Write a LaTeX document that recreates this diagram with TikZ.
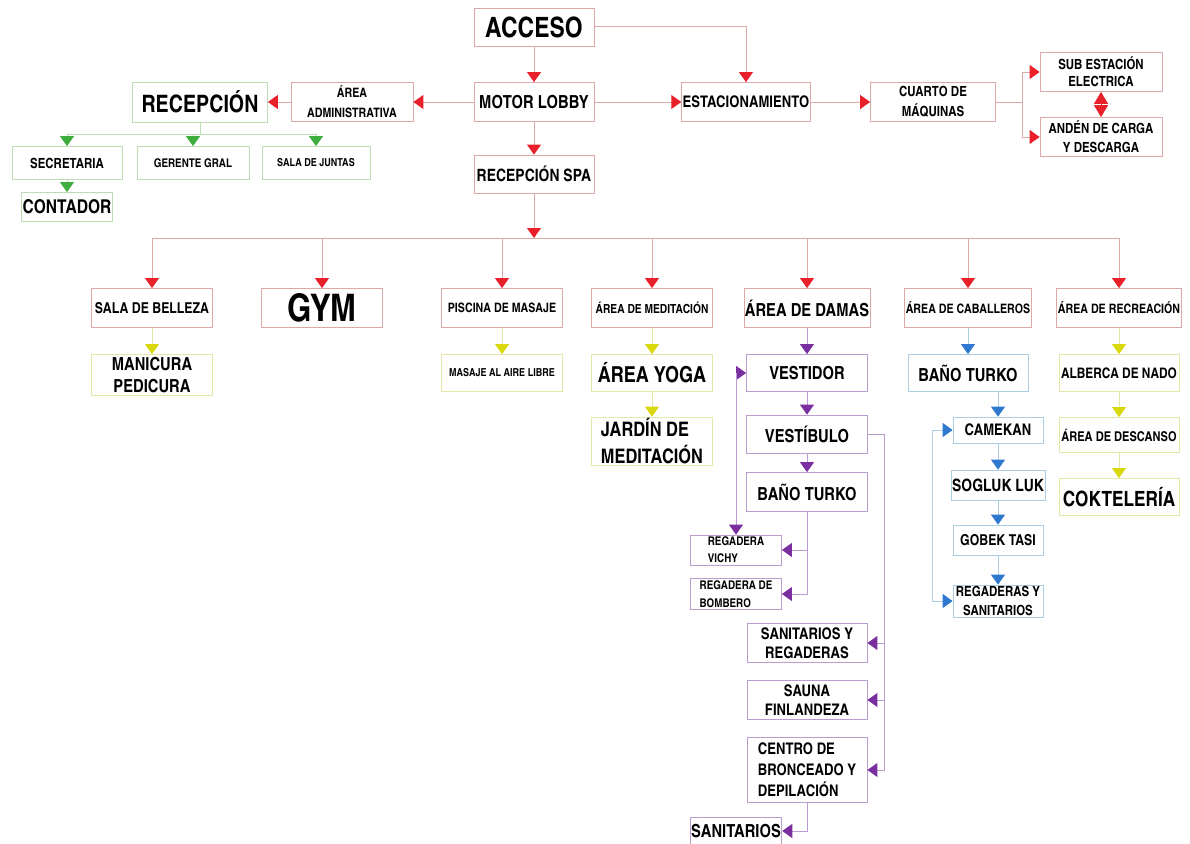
\documentclass[tikz,border=0pt]{standalone}
\usepackage{fontspec}
\setmainfont{texgyreheroscn}[Extension=.otf, UprightFont=*-bold, BoldFont=*-bold]
\usetikzlibrary{arrows.meta, positioning}

\definecolor{rojo}{HTML}{E8202A}
\definecolor{rojoL}{HTML}{DDA8A8}
\definecolor{verde}{HTML}{3DAE3D}
\definecolor{verdeL}{HTML}{BCDDB4}
\definecolor{amarillo}{HTML}{D8D80C}
\definecolor{amarilloL}{HTML}{E6E6A6}
\definecolor{morado}{HTML}{7A2FA0}
\definecolor{moradoL}{HTML}{BA9CCE}
\definecolor{azul}{HTML}{2F78D0}
\definecolor{azulL}{HTML}{AACDE2}

\tikzset{
  caja/.style={draw=#1, line width=0.8pt, inner sep=1pt, align=center, minimum width=121pt, minimum height=39pt},
  tx/.style 2 args={font=\fontsize{#1}{#2}\selectfont},
  flecha/.style 2 args={draw=#1, line width=1pt, -{Triangle[length=10pt, width=14pt, fill=#2, color=#2]}},
  fr/.style={flecha={rojoL}{rojo}},
  fv/.style={flecha={verdeL}{verde}},
  fa/.style={flecha={amarilloL}{amarillo}},
  fm/.style={flecha={moradoL}{morado}},
  fz/.style={flecha={azulL}{azul}},
}

\begin{document}
\begin{tikzpicture}[x=1pt, y=-1pt]
\useasboundingbox (0,0) rectangle (1190,843);

% Acceso y recepcion
\node[caja=rojoL, minimum width=120pt, minimum height=38pt, tx={28}{30}] (acceso) at (534,27) {ACCESO};
\node[caja=rojoL, minimum width=120pt, tx={18}{20}] (lobby) at (534,102) {MOTOR LOBBY};
\node[caja=rojoL, minimum width=120pt, minimum height=38pt, tx={17}{19}] (spa) at (534,174) {RECEPCIÓN SPA};
\node[caja=rojoL, minimum width=122pt, tx={13}{20}] (admin) at (352,102) {ÁREA\\ADMINISTRATIVA};
\node[caja=verdeL, minimum width=135pt, minimum height=40pt, tx={24}{26}] (recep) at (200,102) {RECEPCIÓN};

% Administracion
\node[caja=verdeL, minimum width=110pt, minimum height=33pt, tx={14}{16}] (secre) at (67,163) {SECRETARIA};
\node[caja=verdeL, minimum width=112pt, minimum height=33pt, tx={12}{14}] (geren) at (193,163) {GERENTE GRAL};
\node[caja=verdeL, minimum width=108pt, minimum height=33pt, tx={11}{13}] (juntas) at (316,163) {SALA DE JUNTAS};
\node[caja=verdeL, minimum width=91pt, minimum height=29pt, tx={19}{21}] (contador) at (67,207) {CONTADOR};

% Servicios
\node[caja=rojoL, minimum width=126pt, tx={16}{18}] (estac) at (746,102) {ESTACIONAMIENTO};
\node[caja=rojoL, minimum width=125pt, tx={14}{20}] (cuarto) at (933,102) {CUARTO DE\\MÁQUINAS};
\node[caja=rojoL, minimum width=122pt, tx={14}{17}] (subest) at (1101,72) {SUB ESTACIÓN\\ELECTRICA};
\node[caja=rojoL, minimum width=122pt, tx={14}{19}] (anden) at (1101,137) {ANDÉN DE CARGA\\Y DESCARGA};

% Areas del spa
\node[caja=rojoL, tx={15}{17}] (belleza) at (152,308) {SALA DE BELLEZA};
\node[caja=rojoL, tx={38}{40}] (gym) at (322,308) {GYM};
\node[caja=rojoL, tx={13}{15}] (piscina) at (502,308) {PISCINA DE MASAJE};
\node[caja=rojoL, tx={12.5}{15}] (meditacion) at (652,308) {ÁREA DE MEDITACIÓN};
\node[caja=rojoL, tx={18}{20}] (damas) at (807,308) {ÁREA DE DAMAS};
\node[caja=rojoL, tx={13}{15}] (caballeros) at (968,308) {ÁREA DE CABALLEROS};
\node[caja=rojoL, tx={13}{15}] (recreacion) at (1119,308) {ÁREA DE RECREACIÓN};

\node[caja=amarilloL, minimum height=41pt, tx={18}{22}] (manicura) at (152,375) {MANICURA\\PEDICURA};
\node[caja=amarilloL, minimum height=37pt, tx={11}{13}] (aire) at (502,373) {MASAJE AL AIRE LIBRE};
\node[caja=amarilloL, minimum height=37pt, tx={22}{24}] (yoga) at (652,373) {ÁREA YOGA};
\node[caja=amarilloL, minimum height=48pt, align=left, tx={20}{27}] (jardin) at (652,441) {JARDÍN DE\\MEDITACIÓN};

% Damas
\node[caja=moradoL, minimum height=37pt, tx={18}{20}] (vestidor) at (807,373) {VESTIDOR};
\node[caja=moradoL, minimum height=38pt, tx={18}{20}] (vestibulo) at (807,434) {VESTÍBULO};
\node[caja=moradoL, tx={18}{20}] (banoD) at (807,492) {BAÑO TURKO};
\node[caja=moradoL, minimum width=91pt, minimum height=30pt, align=left, tx={12}{17}] (vichy) at (736,550) {REGADERA\\VICHY};
\node[caja=moradoL, minimum width=91pt, minimum height=31pt, align=left, tx={12}{18}] (bombero) at (736,594) {REGADERA DE\\BOMBERO};
\node[caja=moradoL, minimum width=120pt, tx={16}{19}] (sanreg) at (807,643) {SANITARIOS Y\\REGADERAS};
\node[caja=moradoL, minimum width=120pt, tx={16}{19}] (sauna) at (807,700) {SAUNA\\FINLANDEZA};
\node[caja=moradoL, minimum width=120pt, minimum height=65pt, align=left, tx={16}{21}] (centro) at (807,770) {CENTRO DE\\BRONCEADO Y\\DEPILACIÓN};
\node[caja=moradoL, minimum width=91pt, minimum height=28pt, tx={18}{20}] (sanitarios) at (736,831) {SANITARIOS};

% Caballeros
\node[caja=azulL, minimum width=120pt, minimum height=37pt, tx={18}{20}] (banoC) at (968,373) {BAÑO TURKO};
\node[caja=azulL, minimum width=90pt, minimum height=26pt, tx={16}{18}] (camekan) at (998,430) {CAMEKAN};
\node[caja=azulL, minimum width=90pt, minimum height=30pt, tx={17}{19}] (sogluk) at (998,485) {SOGLUK LUK};
\node[caja=azulL, minimum width=90pt, minimum height=30pt, tx={15}{17}] (gobek) at (998,540) {GOBEK TASI};
\node[caja=azulL, minimum width=90pt, minimum height=32pt, tx={14}{19}] (regsan) at (998,601) {REGADERAS Y\\SANITARIOS};

% Recreacion
\node[caja=amarilloL, minimum width=120pt, minimum height=37pt, tx={14.5}{17}] (alberca) at (1119,373) {ALBERCA DE NADO};
\node[caja=amarilloL, minimum width=120pt, minimum height=35pt, tx={13.5}{16}] (descanso) at (1119,435) {ÁREA DE DESCANSO};
\node[caja=amarilloL, minimum width=120pt, minimum height=37pt, tx={21}{23}] (cocteleria) at (1119,497) {COKTELERÍA};

% Conectores rojos
\coordinate (bus) at (534,238);
\coordinate (cM) at (1022,102);
\draw[fr] (acceso) -- (lobby);
\draw[fr] (acceso.east) -| (estac.north);
\draw[fr] (lobby) -- (admin);
\draw[fr] (admin) -- (recep);
\draw[fr] (lobby) -- (estac);
\draw[fr] (estac) -- (cuarto);
\draw[fr] (cuarto.east) -- (cM) |- (subest.west);
\draw[fr] (cM) |- (anden.west);
\draw[rojo, line width=1pt, {Triangle[length=12pt, width=14pt]}-{Triangle[length=12pt, width=14pt]}] (subest) -- (anden);
\draw[fr] (lobby) -- (spa);
\draw[fr] (spa) -- (bus);
\foreach \n in {belleza, gym, piscina, meditacion, damas, caballeros, recreacion}
  \draw[fr] (bus) -| (\n.north);

% Conectores verdes
\foreach \n in {secre, geren, juntas}
  \draw[fv] (recep.south) -- ++(0,12) -| (\n.north);
\draw[fv] (secre) -- (contador);

% Conectores amarillos
\draw[fa] (belleza) -- (manicura);
\draw[fa] (piscina) -- (aire);
\draw[fa] (meditacion) -- (yoga);
\draw[fa] (yoga) -- (jardin);
\draw[fa] (recreacion) -- (alberca);
\draw[fa] (alberca) -- (descanso);
\draw[fa] (descanso) -- (cocteleria);

% Conectores morados
\coordinate (cV) at (736,373);
\coordinate (cD) at (884,434);
\draw[fm] (damas) -- (vestidor);
\draw[fm] (vestidor) -- (vestibulo);
\draw[fm] (vestibulo) -- (banoD);
\draw[fm] (cV) -- (vestidor.west);
\draw[fm] (cV) -- (vichy.north);
\draw[fm] (banoD.south) |- (vichy.east);
\draw[fm] (banoD.south) |- (bombero.east);
\draw[moradoL, line width=1pt] (vestibulo.east) -- (cD);
\foreach \n in {sanreg, sauna, centro}
  \draw[fm] (cD) |- (\n.east);
\draw[fm] (centro.south) |- (sanitarios.east);

% Conectores azules
\coordinate (cC) at (932,430);
\draw[fz] (caballeros) -- (banoC);
\draw[fz] (banoC.south -| camekan.north) -- (camekan.north);
\draw[fz] (camekan) -- (sogluk);
\draw[fz] (sogluk) -- (gobek);
\draw[fz] (gobek) -- (regsan);
\draw[fz] (cC) -- (camekan.west);
\draw[fz] (cC) |- (regsan.west);
\end{tikzpicture}
\end{document}
